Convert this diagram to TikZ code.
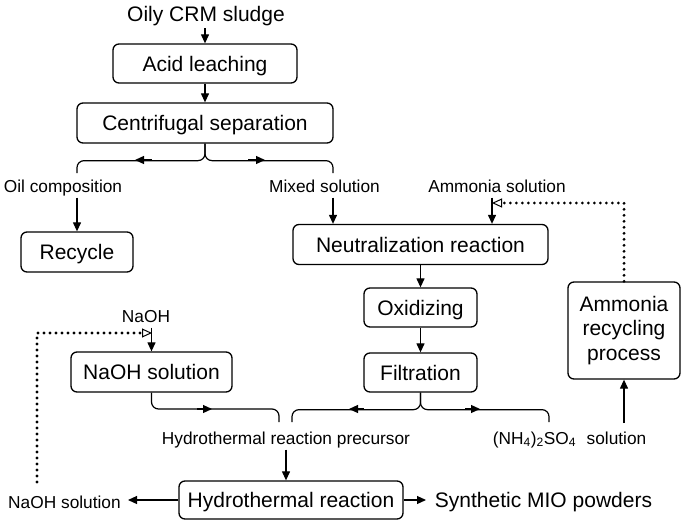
\documentclass[tikz,border=0pt]{standalone}
\usepackage{fontspec}
\setmainfont{Liberation Sans}
\usetikzlibrary{arrows.meta}
\begin{document}
\begin{tikzpicture}[x=1pt,y=-1pt,
  boxbase/.style={draw, line width=1.3pt, rounded corners=6pt, font=\fontsize{21}{24.5}\selectfont, inner sep=0pt, align=center},
  box/.style={boxbase, text height=15pt, text depth=0pt},
  lbl/.style={font=\fontsize{17.3}{20}\selectfont, inner sep=2pt, text height=12.5pt, text depth=3.5pt, anchor=base},
  big/.style={font=\fontsize{21}{24}\selectfont, inner sep=2pt, text height=15pt, text depth=4pt, anchor=base},
  conn/.style={line width=1.2pt},
  arr/.style={conn, -{Triangle[length=9pt,width=8pt]}},
  dots/.style={line width=3.2pt, line cap=round, dash pattern=on 0pt off 6pt, -{Triangle[open,length=10pt,width=9pt,line width=1pt]}}
]
\useasboundingbox (0,0) rectangle (685,527);

% boxes
\node[box, minimum width=184pt, minimum height=39pt] (acid) at (205,63.5) {Acid leaching};
\node[box, minimum width=256pt, minimum height=40pt] (cs) at (205,123) {Centrifugal separation};
\node[box, minimum width=112pt, minimum height=40pt] (recycle) at (77,252) {Recycle};
\node[box, minimum width=255pt, minimum height=40pt] (neut) at (420.5,244.5) {Neutralization reaction};
\node[box, minimum width=113pt, minimum height=39pt] (oxid) at (420.5,307.5) {Oxidizing};
\node[box, minimum width=113pt, minimum height=39pt] (filt) at (420.5,372.5) {Filtration};
\node[boxbase, minimum width=112pt, minimum height=97pt] (amm) at (624,330.5) {Ammonia\\recycling\\process};
\node[box, minimum width=161pt, minimum height=40pt] (naohsol) at (151.5,372) {NaOH solution};
\node[box, minimum width=224pt, minimum height=38pt] (hydro) at (291,500) {Hydrothermal reaction};

% labels
\node[big] (oily) at (206,22) {Oily CRM sludge};
\node[lbl] (oil) at (63,192) {Oil composition};
\node[lbl] (mixed) at (324.5,192) {Mixed solution};
\node[lbl] (ammsol) at (497,192) {Ammonia solution};
\node[lbl] (naoh) at (146,322) {NaOH};
\node[lbl] (prec) at (286,444) {Hydrothermal reaction precursor};
\node[lbl] (nh4) at (534.5,444) {(NH\textsubscript{4})\textsubscript{2}SO\textsubscript{4}};
\node[lbl] (sol) at (616.5,444) {solution};
\node[lbl] (naohout) at (64.5,508) {NaOH solution};
\node[big] (mio) at (543.5,507.5) {Synthetic MIO powders};

% coordinates
\coordinate (oilT) at (77,173);
\coordinate (mixT) at (333,173);
\coordinate (ain) at (492,203);
\coordinate (solT) at (624,423);
\coordinate (precR) at (292,422);
\coordinate (precL) at (279,422);
\coordinate (nb) at (279,409);
\coordinate (nh4T) at (549,422);
\coordinate (nE) at (128,500);
\coordinate (mW) at (426,500);
\coordinate (dS) at (37,482);
\coordinate (nIn) at (152,333);

% top chain
\draw[arr] (acid.north |- oily.south) -- (acid.north);
\draw[arr] (acid) -- (cs);

% centrifugal brace
\draw[conn, rounded corners=7pt] (oilT) |- ([yshift=-17pt]cs.south) -- (cs.south);
\draw[conn, rounded corners=7pt] (mixT) |- ([yshift=-17pt]cs.south) -- (cs.south);
\draw[arr] (152,160) -- (135,160);
\draw[arr] (248,160) -- (265,160);

\draw[arr] (recycle.north |- oil.south) -- (recycle.north);
\draw[arr] (mixT |- mixed.south) -- (mixT |- neut.north);
\draw[arr] (ain |- ammsol.south) -- (ain |- neut.north);
\draw[dots] (amm.north) |- (ain);

\draw[arr] (neut) -- (oxid);
\draw[arr] (oxid) -- (filt);
\draw[arr] (solT) -- (amm.south);

% filtration brace
\draw[conn, rounded corners=7pt] (precR) |- ([yshift=-17pt]filt.south) -- (filt.south);
\draw[conn, rounded corners=7pt] (nh4T) |- ([yshift=-17pt]filt.south) -- (filt.south);
\draw[arr] (364,409) -- (349,409);
\draw[arr] (465,409) -- (480,409);

% NaOH brace
\draw[conn, rounded corners=7pt] (naohsol.south) |- (nb) -- (precL);
\draw[arr] (197,409) -- (212,409);

\draw[arr] (prec.south) -- (prec.south |- hydro.north);
\draw[arr] (hydro.west) -- (nE);
\draw[arr] (hydro.east) -- (mW);

% NaOH recycle
\draw[dots] (dS) |- (nIn);
\draw[arr] (naohsol.north |- naoh.south) -- (naohsol.north);
\end{tikzpicture}
\end{document}
